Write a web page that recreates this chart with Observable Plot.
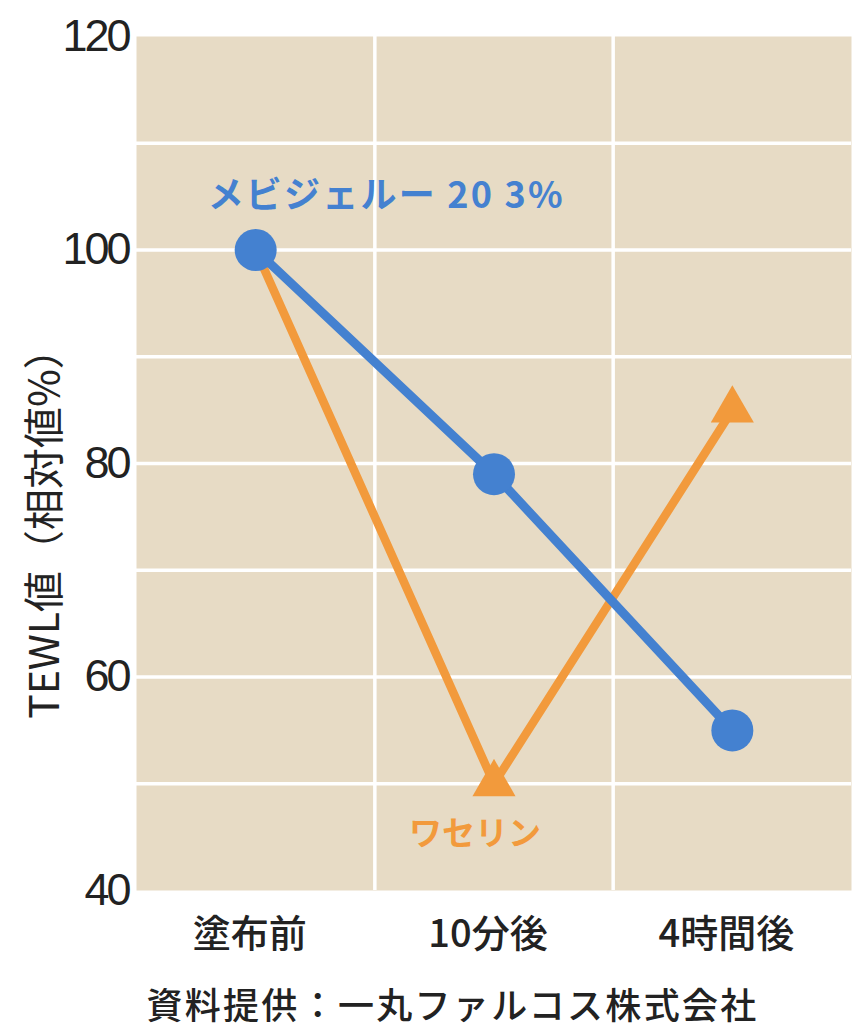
<!DOCTYPE html>
<html>
<head>
<meta charset="utf-8">
<script src="https://cdn.jsdelivr.net/npm/d3@7"></script>
<script src="https://cdn.jsdelivr.net/npm/@observablehq/plot@0.6"></script>
<style>
  html, body { margin: 0; padding: 0; background: #fff; }
  #chart svg { display: block; }
  #chart g[aria-label="y-axis tick label"] text { letter-spacing: -3px; }
  #chart .series-label text { letter-spacing: 2.2px; }
  #caption {
    width: 865px; text-align: center;
    font-family: "Noto Sans CJK JP", sans-serif;
    font-size: 36px; font-weight: 500; color: #222; line-height: 40px;
    margin-top: 1px; padding-left: 40px; box-sizing: border-box; letter-spacing: 2.3px;
  }
</style>
</head>
<body>
<div id="chart"></div>
<div id="caption"></div>
<script>
// ---- data ----
const categories = ["塗布前", "10分後", "4時間後"];
const mebigelValues = [100, 79, 55];
const vaselineValues = [100, 50, 85];
const seriesNames = ["メビジェルー 20 3%", "ワセリン"];
const yTicks = [40, 60, 80, 100, 120];
const gridValues = [50, 60, 70, 80, 90, 100, 110];
const yLabel = "TEWL値（相対値%）";
const captionText = "資料提供：一丸ファルコス株式会社";

const blue = "#4481d0";
const orange = "#f29a3c";
const bg = "#e7dbc5";

const blueRows = categories.map((c, i) => ({i, cat: c, value: mebigelValues[i]}));
const orangeRows = categories.map((c, i) => ({i, cat: c, value: vaselineValues[i]}));
const boundaries = d3.range(1, categories.length).map(i => i - 0.5);

const jp = "'Noto Sans CJK JP', sans-serif";

const chart = Plot.plot({
  width: 865,
  height: 982,
  marginTop: 36,
  marginBottom: 92,
  marginLeft: 136,
  marginRight: 14,
  style: {fontFamily: "'Liberation Sans', Arial, sans-serif", background: "white"},
  x: {domain: [-0.5, categories.length - 0.5], label: null},
  y: {domain: [40, 120], label: null},
  marks: [
    Plot.frame({fill: bg, stroke: null}),
    Plot.ruleY(gridValues, {stroke: "white", strokeWidth: 3.5}),
    Plot.ruleX(boundaries, {stroke: "white", strokeWidth: 3.5}),
    Plot.axisY(yTicks, {tickSize: 0, tickPadding: 8, fontSize: 45, fill: "#222", label: null}),
    Plot.axisX(d3.range(categories.length), {
      tickSize: 0, tickPadding: 30, fontSize: 38, fill: "#222", label: null,
      tickFormat: i => categories[i], fontFamily: jp, fontWeight: 500, dx: -6
    }),
    Plot.text([yLabel], {
      frameAnchor: "left", textAnchor: "middle", lineAnchor: "middle", rotate: -90, dx: -91, dy: 60,
      fontSize: 41, fill: "#222", fontFamily: jp
    }),
    // Vaseline (orange)
    Plot.line(orangeRows, {x: "i", y: "value", stroke: orange, strokeWidth: 8.5}),
    Plot.dot(orangeRows.slice(1), {x: "i", y: "value", symbol: "triangle", r: 16, fill: orange, stroke: null}),
    // Mebigel (blue)
    Plot.line(blueRows, {x: "i", y: "value", stroke: blue, strokeWidth: 9}),
    Plot.dot(blueRows, {x: "i", y: "value", r: 21, fill: blue, stroke: null}),
    // Series labels
    Plot.text([blueRows[0]], {
      x: "i", y: "value", text: () => seriesNames[0], className: "series-label",
      textAnchor: "start", lineAnchor: "bottom", dx: -48, dy: -42,
      fontSize: 36, fontWeight: "bold", fill: blue, fontFamily: jp
    }),
    Plot.text([orangeRows[1]], {
      x: "i", y: "value", text: () => seriesNames[1],
      textAnchor: "middle", lineAnchor: "middle", dx: -19, dy: 51,
      fontSize: 33, fontWeight: "bold", fill: orange, fontFamily: jp
    })
  ]
});

document.getElementById("chart").appendChild(chart);
document.getElementById("caption").textContent = captionText;
</script>
</body>
</html>
